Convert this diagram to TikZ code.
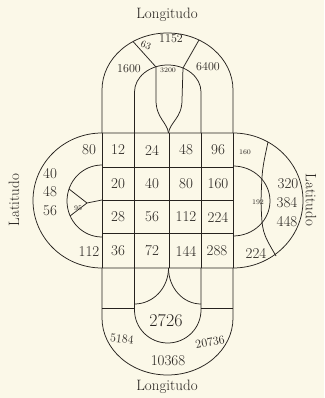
\documentclass[tikz,border=0pt]{standalone}
\usepackage{xcolor}
\definecolor{paperTone}{RGB}{251,248,232}
\definecolor{inkTone}{RGB}{38,34,30}
\begin{document}
\begin{tikzpicture}[
    x=1pt, y=-1pt,
    stroke/.style={draw=inkTone, line width=0.75pt},
    axisLabel/.style={inner sep=0pt, text=inkTone, font=\fontsize{15}{15}\selectfont},
    cellNum/.style={inner sep=0pt, text=inkTone, font=\fontsize{15}{15}\selectfont},
    midNum/.style={inner sep=0pt, text=inkTone, font=\fontsize{12}{12}\selectfont},
    smallNum/.style={inner sep=0pt, text=inkTone, font=\fontsize{10}{10}\selectfont},
    tinyNum/.style={inner sep=0pt, text=inkTone, font=\fontsize{7}{7}\selectfont},
    bigNum/.style={inner sep=0pt, text=inkTone, font=\fontsize{18}{18}\selectfont}
]
    % --- paper ---
    \fill[paperTone] (0,0) rectangle (324,398);

    % --- 1. Outer oval (Latitudo) ---
    \draw[stroke] (102,133) -- (233,133)
        arc[start angle=-90, end angle=90, x radius=70, y radius=67.5]
        -- (102,268)
        arc[start angle=90, end angle=270, x radius=69, y radius=67.5] -- cycle;

    % inner half ovals
    \draw[stroke] (102,165) arc[start angle=-90, end angle=-270, x radius=35, y radius=36];
    \draw[stroke] (233,166) arc[start angle=-90, end angle=90, x radius=37, y radius=35];

    % small wedge left, crossing curve right
    \draw[stroke] (69,189) .. controls (78,196) .. (87,203) -- (102,200);
    \draw[stroke] (70,216) .. controls (79,210) .. (87,203);
    \draw[stroke] (268,142) .. controls (262,170) .. (261,201)
        .. controls (262,232) .. (276,256);

    % --- 2. Top arches (Longitudo) ---
    \draw[stroke] (102,133) -- (102,90)
        arc[start angle=180, end angle=360, x radius=65.5, y radius=57] -- (233,133);
    \draw[stroke] (134.5,133) -- (134.5,92)
        arc[start angle=180, end angle=360, x radius=33.25, y radius=27] -- (201,133);
    \draw[stroke] (156,67) -- (133,41.5);
    \draw[stroke] (183,68) -- (199,40);
    \draw[stroke] (156,67) -- (156,100) .. controls (156,118) and (167,122) .. (168.5,133);
    \draw[stroke] (183,68) -- (182,100) .. controls (182,118) and (170,122) .. (168.5,133);

    % --- 3. Grid ---
    \foreach \gy in {167,200,233}
        \draw[stroke] (102,\gy) -- (233,\gy);
    \foreach \gx in {102,134.5,169,201,233}
        \draw[stroke] (\gx,133) -- (\gx,268);

    % --- 4. Bottom arches (Longitudo) ---
    \draw[stroke] (102,268) -- (102,318)
        arc[start angle=180, end angle=0, x radius=65.5, y radius=57] -- (233,268);
    \draw[stroke] (134.5,268) -- (134.5,310)
        arc[start angle=180, end angle=0, x radius=33.25, y radius=33] -- (201,268);
    \draw[stroke] (102,308) -- (134.5,308);
    \draw[stroke] (201,308) -- (233,308);
    \draw[stroke] (168.5,268) arc[start angle=0, end angle=90, x radius=34, y radius=36];
    \draw[stroke] (168.5,268) arc[start angle=180, end angle=90, x radius=32.5, y radius=36];

    % --- 5. Axis labels ---
    \node[axisLabel] (lonTop) at (167,15) {Longitudo};
    \node[axisLabel] (lonBot) at (167,387) {Longitudo};
    \node[axisLabel, rotate=90] (latLeft) at (14,200) {Latitudo};
    \node[axisLabel, rotate=-90] (latRight) at (311,200) {Latitudo};

    % --- 6. Numbers, top ---
    \node[midNum] (n1152) at (171,39) {1152};
    \node[smallNum, rotate=-20] (n63) at (146,45) {63};
    \node[midNum] (n1600) at (129,69) {1600};
    \node[midNum] (n6400) at (208,67) {6400};
    \node[tinyNum] (n3200) at (168,70) {3200};

    % --- 7. Numbers, grid rows ---
    \node[cellNum] (r1a) at (89,150) {80};
    \node[cellNum] (r1b) at (118,150) {12};
    \node[cellNum] (r1c) at (152,150) {24};
    \node[cellNum] (r1d) at (186,150) {48};
    \node[cellNum] (r1e) at (218,150) {96};
    \node[tinyNum] (r1f) at (245,152) {160};

    \node[cellNum] (s40) at (50,174) {40};
    \node[cellNum] (s48) at (50,192) {48};
    \node[cellNum] (s56) at (50,211) {56};
    \node[tinyNum] (s95) at (78,208) {95};

    \node[cellNum] (r2a) at (118,184) {20};
    \node[cellNum] (r2b) at (152,184) {40};
    \node[cellNum] (r2c) at (186,184) {80};
    \node[cellNum] (r2d) at (218,184) {160};

    \node[cellNum] (r3a) at (118,217) {28};
    \node[cellNum] (r3b) at (152,217) {56};
    \node[cellNum] (r3c) at (186,217) {112};
    \node[cellNum] (r3d) at (218,217) {224};

    \node[tinyNum] (e192) at (258,202) {192};
    \node[cellNum] (e320) at (288,184) {320};
    \node[cellNum] (e384) at (287,203) {384};
    \node[cellNum] (e448) at (287,222) {448};

    \node[cellNum] (r4a) at (89,252) {112};
    \node[cellNum] (r4b) at (118,251) {36};
    \node[cellNum] (r4c) at (152,251) {72};
    \node[cellNum] (r4d) at (186,251) {144};
    \node[cellNum] (r4e) at (217,251) {288};
    \node[cellNum] (r4f) at (256,253) {224};

    % --- 8. Numbers, bottom ---
    \node[bigNum] (b2726) at (166,321) {2726};
    \node[midNum, rotate=-6] (b5184) at (122,339) {5184};
    \node[midNum, rotate=10] (b20736) at (210,342) {20736};
    \node[cellNum] (b10368) at (168,361) {10368};
\end{tikzpicture}
\end{document}
